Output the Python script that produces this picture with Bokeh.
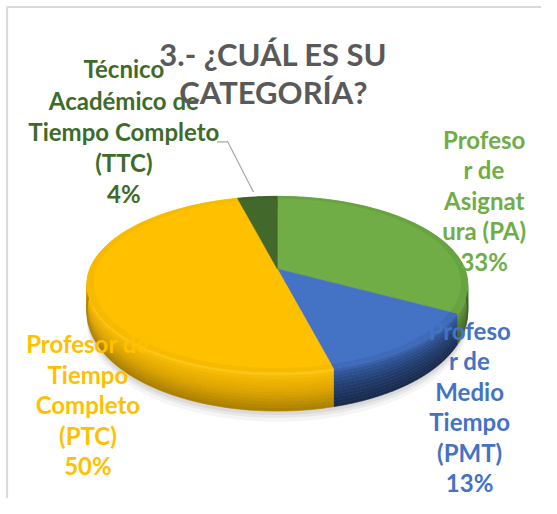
import numpy as np
from bokeh.plotting import figure
from bokeh.models import Range1d
from bokeh.core.properties import value
from bokeh.embed import file_html
from bokeh.resources import INLINE

# ---------------- data ----------------
title_lines = ["3.- ¿CUÁL ES SU", "CATEGORÍA?"]
categories = ["Profesor de Asignatura (PA)", "Profesor de Medio Tiempo (PMT)",
              "Profesor de Tiempo Completo (PTC)", "Técnico Académico de Tiempo Completo (TTC)"]
percent = [33, 13, 50, 4]
label_text = [["Profeso", "r de", "Asignat", "ura (PA)"],
              ["Profeso", "r de", "Medio", "Tiempo", "(PMT)"],
              ["Profesor de", "Tiempo", "Completo", "(PTC)"],
              ["Técnico", "Académico de", "Tiempo Completo", "(TTC)"]]

# ---------------- styles / layout ----------------
top_colors = ["#70AD47", "#4472C4", "#FFC000", "#43682B"]
rim_colors = ["#65A03F", "#3E69B6", "#F6B800", "#3D6027"]
side_stops = [[(0.0, "#6FAA46"), (0.15, "#5E9239"), (0.5, "#4F7A30"), (1.0, "#3D5E25")],
              [(0.0, "#4068B4"), (0.15, "#2F5597"), (0.5, "#223D6E"), (1.0, "#18294A")],
              [(0.0, "#FFCC1F"), (0.15, "#F5B800"), (0.55, "#DBA300"), (1.0, "#A87D00")],
              [(0.0, "#43682B"), (0.5, "#34511F"), (1.0, "#263C17")]]
label_colors = ["#70AD47", "#4472C4", "#FFC000", "#3E6B2A"]
# (centre x, first baseline, line step) in reference pixels
label_pos = [(498, 153, 31.5), (483, 350, 31.5), (90, 364, 31.5), (127, 80, 32.3)]
label_size, title_size = 24, 31
baseline_fix = 0.40       # Bokeh svg text sits ~0.4em lower than the requested baseline
n_bands = 12

W, H = 541, 498           # figure size in screen pixels
RW, RH = 557, 514         # reference canvas the coordinates below refer to
cx, cy = 285.0, 277.0     # pie centre
R, Rc, k = 193.0, 88.0, 0.176


def proj(theta, r=1.0):
    u = r * np.sin(theta)
    v = -r * np.cos(theta)
    s = 1.0 / (1.0 - k * v)
    return cx + R * u * s, cy + Rc * v * s, v


def thick(v):
    return 26.0 + 14.0 * v


def hex2rgb(h):
    return np.array([int(h[i:i + 2], 16) for i in (1, 3, 5)], dtype=float)


def interp_color(stops, f):
    for (f0, c0), (f1, c1) in zip(stops[:-1], stops[1:]):
        if f0 <= f <= f1:
            t = (f - f0) / (f1 - f0) if f1 > f0 else 0.0
            c = hex2rgb(c0) * (1 - t) + hex2rgb(c1) * t
            return "#%02x%02x%02x" % tuple(int(round(x)) for x in c)
    return stops[-1][1]


p = figure(width=W, height=H, output_backend="svg", toolbar_location=None,
           x_range=Range1d(0, RW), y_range=Range1d(RH, 0),
           min_border=0, outline_line_color=None)
p.axis.visible = False
p.grid.visible = False
p.background_fill_color = "white"
p.border_fill_color = "white"

# chart-area frame (left and top edges visible in the reference)
p.line(x=[6.8, 6.8, RW], y=[RH, 6.8, 6.8], line_color="#D9D9D9", line_width=2)

total = float(sum(percent))
starts, ends = [], []
acc = 0.0
for val in percent:
    starts.append(2 * np.pi * acc / total)
    acc += val
    ends.append(2 * np.pi * acc / total)

# soft shadow under the pie
full = np.linspace(0, 2 * np.pi, 240)
fx, fy, fv = proj(full)
for off, a in [(11, 0.04), (7, 0.05), (4, 0.06)]:
    p.patch(x=list(fx), y=list(fy + thick(fv) + off), fill_color="#000000",
            fill_alpha=a, line_color=None)

# side walls (gradient bands)
edges = np.linspace(0, 1, n_bands + 1)
wall_x, wall_y, wall_c = [], [], []
for i in range(len(percent)):
    th = np.linspace(starts[i], ends[i], 120)
    xt, yt, v = proj(th)
    for b in range(n_bands):
        y0 = yt + thick(v) * edges[b]
        y1 = yt + thick(v) * edges[b + 1]
        wall_x.append(list(np.concatenate([xt, xt[::-1]])))
        wall_y.append(list(np.concatenate([y0, y1[::-1]])))
        wall_c.append(interp_color(side_stops[i], (edges[b] + edges[b + 1]) / 2))
p.patches(xs=wall_x, ys=wall_y, fill_color=wall_c, line_color=wall_c, line_width=0.6)

# top surfaces
top_x, top_y = [], []
rim_x, rim_y = [], []
for i in range(len(percent)):
    th = np.linspace(starts[i], ends[i], 160)
    xt, yt, _ = proj(th)
    top_x.append([cx] + list(xt))
    top_y.append([cy] + list(yt))
    xi, yi, _ = proj(th, 0.965)
    rim_x.append(list(np.concatenate([xt, xi[::-1]])))
    rim_y.append(list(np.concatenate([yt, yi[::-1]])))
p.patches(xs=top_x, ys=top_y, fill_color=top_colors, line_color=top_colors, line_width=0.6)
p.patches(xs=rim_x, ys=rim_y, fill_color=rim_colors, line_color=None, fill_alpha=0.8)

# labels
font = value("Lato")
for i in range(len(percent)):
    lines = label_text[i] + [f"{percent[i]}%"]
    lx, ly, step = label_pos[i]
    ys = [ly + step * j - baseline_fix * label_size for j in range(len(lines))]
    p.text(x=[lx] * len(lines), y=ys, text=lines,
           text_font=font, text_font_style="bold", text_font_size=f"{label_size}px",
           text_color=label_colors[i], text_align="center", text_baseline="alphabetic")

# leader line for the small TTC slice
mid = (starts[3] + ends[3]) / 2
ex, ey, _ = proj(mid)
p.line(x=[223, 234, ex - 4], y=[146, 146, ey - 5], line_color="#A6A6A6", line_width=1.2)

# title
p.text(x=[281, 281], y=[68 - baseline_fix * title_size, 107 - baseline_fix * title_size],
       text=title_lines, text_font=font, text_font_style="bold",
       text_font_size=f"{title_size}px", text_color="#595959", text_align="center",
       text_baseline="alphabetic")

open("out.html", "w").write(file_html(p, INLINE))
